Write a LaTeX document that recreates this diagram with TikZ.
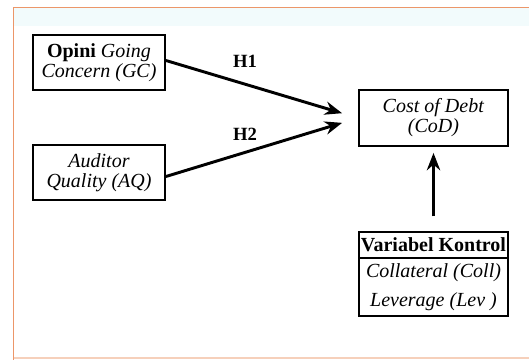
\documentclass[tikz,border=0pt]{standalone}
\usepackage{fontspec}
\setmainfont{Liberation Serif}
\usetikzlibrary{arrows.meta}
\definecolor{framecol}{RGB}{236,150,105}
\definecolor{bandcol}{RGB}{242,251,252}
\begin{document}
\begin{tikzpicture}[x=0.75pt,y=-0.75pt,
  varbox/.style={draw,line width=1.4pt,inner sep=0pt,align=center,
    font=\fontsize{15}{15}\selectfont},
  link/.style={line width=2.2pt,-{Stealth[length=13pt,width=10pt]}},
  hlabel/.style={font=\fontsize{14}{14}\selectfont\bfseries}]
  \useasboundingbox (0,0) rectangle (529,360);
  % frame
  \fill[bandcol] (14,8) rectangle (529,26);
  \draw[framecol,line width=1.4pt] (13.5,360) -- (13.5,7.5) -- (529,7.5);
  \draw[framecol!45,line width=0.8pt] (13.5,358) -- (529,358);
  % variables
  \node[varbox,minimum width=99pt,minimum height=41.25pt] (gc) at (99,62.5)
    {\textbf{Opini} \textit{Going}\\\textit{Concern (GC)}};
  \node[varbox,minimum width=99pt,minimum height=41.25pt] (aq) at (99,172.5)
    {\textit{Auditor}\\\textit{Quality (AQ)}};
  \node[varbox,minimum width=111.75pt,minimum height=42pt] (cod) at (433.5,118)
    {\textit{Cost of Debt}\\\textit{(CoD)}};
  \node[varbox,minimum width=111.75pt,minimum height=63pt] (kontrol) at (433.5,274) {};
  \draw[line width=1.2pt] (kontrol.west |- 0,258) -- (kontrol.east |- 0,258);
  \node[font=\fontsize{15}{15}\selectfont\bfseries] (kvar) at (433.5,245) {Variabel Kontrol};
  \node[font=\fontsize{15}{15}\selectfont\itshape] (coll) at (433.5,273) {Collateral (Coll)};
  \node[font=\fontsize{15}{15}\selectfont\itshape] (lev) at (433.5,302) {Leverage (Lev )};
  % hypotheses
  \draw[link,shorten >=12.5pt] ([yshift=1.5pt]gc.east) -- (cod.west);
  \draw[link,shorten >=12.5pt] ([yshift=-3pt]aq.east) -- (cod.west);
  \draw[link,shorten <=11pt,shorten >=4.5pt] (kontrol.north) -- (cod.south);
  \node[hlabel] (h1) at (245,61) {H1};
  \node[hlabel] (h2) at (245,134) {H2};
\end{tikzpicture}
\end{document}
